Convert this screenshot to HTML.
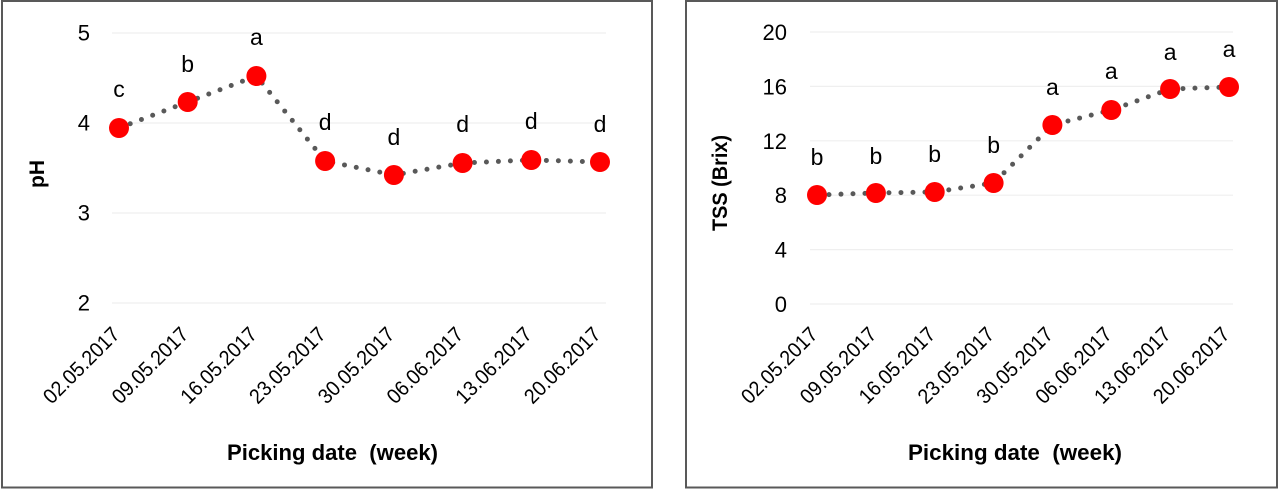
<!DOCTYPE html>
<html>
<head>
<meta charset="utf-8">
<style>
  html,body{margin:0;padding:0;background:#fff;}
  svg{display:block;}
  text{font-family:"Liberation Sans",sans-serif;fill:#000;}
</style>
</head>
<body>
<svg width="1280" height="490" viewBox="0 0 1280 490" xmlns="http://www.w3.org/2000/svg">
  <rect x="0" y="0" width="1280" height="490" fill="#fff"/>

  <!-- ========== LEFT PANEL ========== -->
  <rect x="2" y="1" width="650" height="486.5" fill="#fff" stroke="#595959" stroke-width="2"/>

  <g stroke="#efefef" stroke-width="1.2">
    <line x1="112" y1="33" x2="606" y2="33"/>
    <line x1="112" y1="123" x2="606" y2="123"/>
    <line x1="112" y1="213" x2="606" y2="213"/>
    <line x1="112" y1="303" x2="606" y2="303"/>
  </g>

  <g font-size="22" text-anchor="end">
    <text x="90" y="40.5">5</text>
    <text x="90" y="130.5">4</text>
    <text x="90" y="220.5">3</text>
    <text x="90" y="310.5">2</text>
  </g>

  <text transform="translate(44,174) rotate(-90)" text-anchor="middle" font-size="21" font-weight="bold">pH</text>

  <polyline fill="none" stroke="#595959" stroke-width="5" stroke-linecap="round" stroke-dasharray="0 12"
    points="119,128 187.7,102 256.4,76 325.1,161 393.9,175 462.6,163 531.3,160 600,162"/>
  <g fill="#ff0000">
    <circle cx="119" cy="128" r="10"/>
    <circle cx="187.7" cy="102" r="10"/>
    <circle cx="256.4" cy="76" r="10"/>
    <circle cx="325.1" cy="161" r="10"/>
    <circle cx="393.9" cy="175" r="10"/>
    <circle cx="462.6" cy="163" r="10"/>
    <circle cx="531.3" cy="160" r="10"/>
    <circle cx="600" cy="162" r="10"/>
  </g>

  <g font-size="23" text-anchor="middle">
    <text x="119" y="97">c</text>
    <text x="187.7" y="72">b</text>
    <text x="256.4" y="45">a</text>
    <text x="325.1" y="130">d</text>
    <text x="393.9" y="145">d</text>
    <text x="462.6" y="132">d</text>
    <text x="531.3" y="129">d</text>
    <text x="600" y="132">d</text>
  </g>

  <g font-size="21" text-anchor="middle">
    <text transform="translate(81,365) rotate(-45)" y="7.5" textLength="98" lengthAdjust="spacingAndGlyphs">02.05.2017</text>
    <text transform="translate(149.7,365) rotate(-45)" y="7.5" textLength="98" lengthAdjust="spacingAndGlyphs">09.05.2017</text>
    <text transform="translate(218.4,365) rotate(-45)" y="7.5" textLength="98" lengthAdjust="spacingAndGlyphs">16.05.2017</text>
    <text transform="translate(287.1,365) rotate(-45)" y="7.5" textLength="98" lengthAdjust="spacingAndGlyphs">23.05.2017</text>
    <text transform="translate(355.9,365) rotate(-45)" y="7.5" textLength="98" lengthAdjust="spacingAndGlyphs">30.05.2017</text>
    <text transform="translate(424.6,365) rotate(-45)" y="7.5" textLength="98" lengthAdjust="spacingAndGlyphs">06.06.2017</text>
    <text transform="translate(493.3,365) rotate(-45)" y="7.5" textLength="98" lengthAdjust="spacingAndGlyphs">13.06.2017</text>
    <text transform="translate(562,365) rotate(-45)" y="7.5" textLength="98" lengthAdjust="spacingAndGlyphs">20.06.2017</text>
  </g>

  <text x="332.5" y="460" text-anchor="middle" font-size="22" font-weight="bold" style="white-space:pre" textLength="211" lengthAdjust="spacingAndGlyphs">Picking date  (week)</text>

  <!-- ========== RIGHT PANEL ========== -->
  <rect x="686" y="1" width="591" height="486.5" fill="#fff" stroke="#595959" stroke-width="2"/>

  <g stroke="#efefef" stroke-width="1.2">
    <line x1="810" y1="32" x2="1233" y2="32"/>
    <line x1="810" y1="86.4" x2="1233" y2="86.4"/>
    <line x1="810" y1="140.8" x2="1233" y2="140.8"/>
    <line x1="810" y1="195.2" x2="1233" y2="195.2"/>
    <line x1="810" y1="249.6" x2="1233" y2="249.6"/>
    <line x1="810" y1="304" x2="1233" y2="304"/>
  </g>

  <g font-size="22" text-anchor="end">
    <text x="787" y="40">20</text>
    <text x="787" y="94.4">16</text>
    <text x="787" y="148.8">12</text>
    <text x="787" y="203.2">8</text>
    <text x="787" y="257.6">4</text>
    <text x="787" y="312">0</text>
  </g>

  <text transform="translate(727,183) rotate(-90)" text-anchor="middle" font-size="21" font-weight="bold" textLength="96" lengthAdjust="spacingAndGlyphs">TSS (Brix)</text>

  <polyline fill="none" stroke="#595959" stroke-width="5" stroke-linecap="round" stroke-dasharray="0 12"
    points="817,195 875.9,193 934.7,192 993.6,183 1052.4,125 1111.3,110 1170.1,89 1229,87"/>
  <g fill="#ff0000">
    <circle cx="817" cy="195" r="10"/>
    <circle cx="875.9" cy="193" r="10"/>
    <circle cx="934.7" cy="192" r="10"/>
    <circle cx="993.6" cy="183" r="10"/>
    <circle cx="1052.4" cy="125" r="10"/>
    <circle cx="1111.3" cy="110" r="10"/>
    <circle cx="1170.1" cy="89" r="10"/>
    <circle cx="1229" cy="87" r="10"/>
  </g>

  <g font-size="23" text-anchor="middle">
    <text x="817" y="165">b</text>
    <text x="875.9" y="164">b</text>
    <text x="934.7" y="162">b</text>
    <text x="993.6" y="153">b</text>
    <text x="1052.4" y="95">a</text>
    <text x="1111.3" y="79">a</text>
    <text x="1170.1" y="60">a</text>
    <text x="1229" y="57">a</text>
  </g>

  <g font-size="21" text-anchor="middle">
    <text transform="translate(779,365) rotate(-45)" y="7.5" textLength="98" lengthAdjust="spacingAndGlyphs">02.05.2017</text>
    <text transform="translate(837.9,365) rotate(-45)" y="7.5" textLength="98" lengthAdjust="spacingAndGlyphs">09.05.2017</text>
    <text transform="translate(896.7,365) rotate(-45)" y="7.5" textLength="98" lengthAdjust="spacingAndGlyphs">16.05.2017</text>
    <text transform="translate(955.6,365) rotate(-45)" y="7.5" textLength="98" lengthAdjust="spacingAndGlyphs">23.05.2017</text>
    <text transform="translate(1014.4,365) rotate(-45)" y="7.5" textLength="98" lengthAdjust="spacingAndGlyphs">30.05.2017</text>
    <text transform="translate(1073.3,365) rotate(-45)" y="7.5" textLength="98" lengthAdjust="spacingAndGlyphs">06.06.2017</text>
    <text transform="translate(1132.1,365) rotate(-45)" y="7.5" textLength="98" lengthAdjust="spacingAndGlyphs">13.06.2017</text>
    <text transform="translate(1191,365) rotate(-45)" y="7.5" textLength="98" lengthAdjust="spacingAndGlyphs">20.06.2017</text>
  </g>

  <text x="1015" y="460" text-anchor="middle" font-size="22" font-weight="bold" style="white-space:pre" textLength="214" lengthAdjust="spacingAndGlyphs">Picking date  (week)</text>
</svg>
</body>
</html>
